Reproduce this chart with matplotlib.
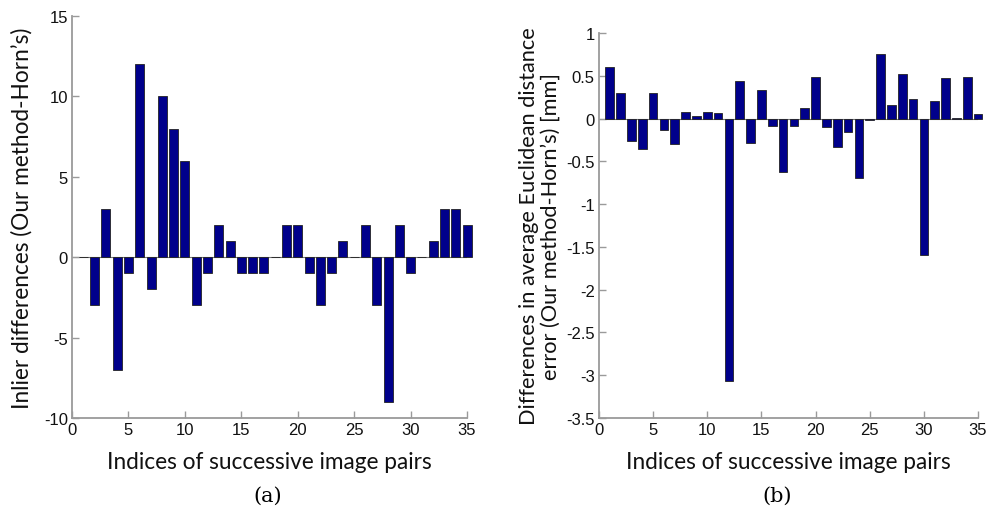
import numpy as np
import matplotlib
matplotlib.use("Agg")
import matplotlib.pyplot as plt

# image pair indices
pair_idx = list(range(1, 36))

# inlier count differences (our method - Horn's)
inlier_diff = [0, -3, 3, -7, -1, 12, -2, 10, 8, 6,
               -3, -1, 2, 1, -1, -1, -1, 0, 2, 2,
               -1, -3, -1, 1, 0, 2, -3, -9, 2, -1,
               0, 1, 3, 3, 2]

# average euclidean distance error differences [mm]
dist_diff = [0.60, 0.30, -0.26, -0.35, 0.30, -0.13, -0.30, 0.08, 0.03, 0.08,
             0.06, -3.07, 0.44, -0.28, 0.33, -0.09, -0.63, -0.09, 0.12, 0.49,
             -0.10, -0.33, -0.16, -0.69, -0.02, 0.75, 0.16, 0.52, 0.23, -1.60,
             0.21, 0.47, 0.005, 0.49, 0.05]

x_ticks = [0, 5, 10, 15, 20, 25, 30, 35]
y_ticks_a = [-10, -5, 0, 5, 10, 15]
y_ticks_b = [-3.5, -3, -2.5, -2, -1.5, -1, -0.5, 0, 0.5, 1]

bar_color = "#00008b"
axis_gray = "#9a9a9a"
label_font = "Lato"
tick_font = "Liberation Sans"

fig = plt.figure(figsize=(9.99, 5.10), dpi=100)
ax_a = fig.add_axes([0.0721, 0.1784, 0.3954, 0.7883])
ax_b = fig.add_axes([0.5996, 0.1784, 0.3794, 0.7549])


def style_axes(ax, yticks, ylim):
    ax.axhline(0, color="#777777", lw=0.8, zorder=1)
    ax.set_xlim(0, 35)
    ax.set_ylim(*ylim)
    ax.set_xticks(x_ticks)
    ax.set_yticks(yticks)
    ax.set_yticklabels([("%g" % t) for t in yticks])
    for side in ["top", "right"]:
        ax.spines[side].set_visible(False)
    for side in ["left", "bottom"]:
        ax.spines[side].set_color(axis_gray)
        ax.spines[side].set_linewidth(1.3)
    ax.tick_params(direction="in", length=5, width=1, color=axis_gray,
                   labelsize=12, labelcolor="#111111", pad=3)
    for lbl in ax.get_xticklabels() + ax.get_yticklabels():
        lbl.set_fontfamily(tick_font)
    ax.set_xlabel("Indices of successive image pairs", fontsize=16.3,
                  family=label_font, color="#111111", labelpad=10)


bars_a = ax_a.bar(pair_idx, inlier_diff, width=0.8, color=bar_color,
                  edgecolor="#222222", linewidth=0.6, zorder=2)
style_axes(ax_a, y_ticks_a, (-10, 15))
ax_a.set_ylabel("Inlier differences (Our method-Horn\u2019s)", fontsize=16.3,
                family=label_font, color="#111111", labelpad=8)

bars_b = ax_b.bar(pair_idx, dist_diff, width=0.8, color=bar_color,
                  edgecolor="#222222", linewidth=0.6, zorder=2)
style_axes(ax_b, y_ticks_b, (-3.5, 1))
ax_b.set_ylabel("Differences in average Euclidean distance\n"
                "error (Our method-Horn\u2019s) [mm]", fontsize=15.7,
                family=label_font, color="#111111", labelpad=4,
                linespacing=1.1)

for b in list(bars_a) + list(bars_b):
    b.set_clip_on(False)

fig.text(0.268, 0.026, "(a)", ha="center", va="center", fontsize=15,
         family="DejaVu Serif")
fig.text(0.778, 0.026, "(b)", ha="center", va="center", fontsize=15,
         family="DejaVu Serif")

fig.savefig("out.png", dpi=100)
